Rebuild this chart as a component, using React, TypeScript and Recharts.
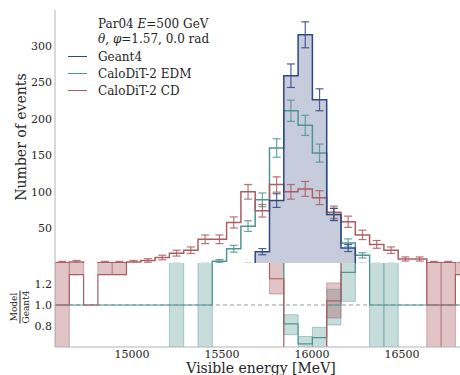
import React from 'react'
import {
  ComposedChart,
  Line,
  Area,
  Scatter,
  ErrorBar,
  XAxis,
  YAxis,
  ReferenceLine,
  ReferenceArea,
} from 'recharts'

// histogram binning in MeV
const BIN_START = 14572
const BIN_WIDTH = 79.44
const X_DOMAIN: [number, number] = [14572, 16933]
const X_TICKS = [15000, 15500, 16000, 16500]
const Y_TICKS = [50, 100, 150, 200, 250, 300]
const RATIO_DOMAIN: [number, number] = [0.6, 1.4]
const RATIO_TICKS = [0.8, 1.0, 1.2]

// event counts per bin
const GEANT4 = [0, 0, 0, 0, 0, 0, 0, 0, 0, 0, 0, 0, 0, 1, 18, 88, 259, 315, 226, 69, 23, 1, 0, 0, 0, 0, 0, 0, 0, 0]
const EDM = [0, 0, 0, 0, 0, 0, 0, 0, 1, 0, 1, 5, 22, 53, 89, 160, 211, 191, 153, 69, 30, 13, 1, 1, 0, 0, 0, 0, 0, 0]
const CD = [3, 4, 0, 3, 3, 4, 6, 10, 16, 20, 35, 35, 58, 100, 74, 110, 100, 104, 92, 72, 59, 41, 28, 20, 8, 8, 3, 3, 2, 2]

// model / Geant4 ratio per bin (values above 1.4 or below 0.6 fall outside the panel)
const CD_RATIO = [1.0, 1.29, 1.0, 1.29, 1.29, 9, 9, 9, 9, 9, 9, 9, 9, 9, 9, 1.25, 0.39, 0.33, 0.41, 1.04, 2.6, 9, 9, 9, 9, 9, 1.0, 1.0, 1.29, 1.29]
const EDM_RATIO = [1.0, 1.0, 1.0, 1.0, 1.0, 1.0, 1.0, 1.0, 1.0, 1.0, 1.0, 9, 9, 9, 9, 9, 0.82, 0.63, 0.69, 1.0, 1.31, 9, 1.0, 1.0, 1.0, 1.0, 1.0, 1.0, 1.0, 1.0]

// ratio uncertainty bands [low, high]
type Band = [number, number] | null
const CD_BAND: Band[] = [
  [0, 2], [1.29, 2], null, [1.29, 2], [1.29, 2], null, null, null, null, null,
  null, null, null, null, null, [1.105, 1.42], null, null, null, [0.876, 1.21],
  null, null, null, null, null, null, [0, 2], [0, 2], [1.29, 2], null,
]
const EDM_BAND: Band[] = [
  null, null, null, null, null, null, null, null, [0, 2], null,
  [0, 2], null, null, null, null, null, [0.717, 0.907], [0.55, 0.7], [0.58, 0.787], [0.81, 1.15],
  [1.035, 2], null, [0, 2], [0, 2], null, null, null, null, null, null,
]

const COLORS = {
  g4: '#2e4885',
  g4Fill: '#c6ccdb',
  edm: '#4f9592',
  cd: '#ad5c60',
}
const FONT = 'DejaVu Serif'
const TEXT = '#262626'
const SPINE = '#b3b3b3'

const NBINS = GEANT4.length
const edge = (k: number) => BIN_START + k * BIN_WIDTH

const stepData = Array.from({ length: NBINS + 1 }, (_, k) => {
  const i = Math.min(k, NBINS - 1)
  return {
    x: edge(k),
    g4: GEANT4[i],
    edm: EDM[i],
    cd: CD[i],
    rCd: CD_RATIO[i],
    rEdm: EDM_RATIO[i],
  }
})

// Poisson error bars at bin centres, only for filled bins
const errPoints = (vals: number[]) =>
  vals
    .map((v, k) => ({ x: edge(k) + BIN_WIDTH / 2, y: v, err: Math.sqrt(v) }))
    .filter((p) => p.y > 0)

const tickStyle = { fontFamily: FONT, fontSize: 11, fill: TEXT }
const noShape = () => <g />

function Legend() {
  const row = (cy: number, content: React.ReactNode, color?: string) => (
    <div
      style={{
        position: 'absolute',
        left: 68,
        top: cy,
        transform: 'translateY(-50%)',
        display: 'flex',
        alignItems: 'center',
        lineHeight: 1,
        whiteSpace: 'nowrap',
      }}
    >
      <span style={{ width: 19, height: 0, borderTop: color ? `1.6px solid ${color}` : 'none', marginRight: 11 }} />
      <span>{content}</span>
    </div>
  )
  return (
    <div style={{ position: 'absolute', left: 0, top: 0, fontFamily: FONT, fontSize: 12, color: TEXT }}>
      {row(24, <>Par04 <i>E</i>=500 GeV</>)}
      {row(38.5, <><i>θ</i>, <i>φ</i>=1.57, 0.0 rad</>)}
      {row(56.5, 'Geant4', COLORS.g4)}
      {row(73.5, 'CaloDiT-2 EDM', COLORS.edm)}
      {row(90.5, 'CaloDiT-2 CD', COLORS.cd)}
    </div>
  )
}

export default function App() {
  return (
    <div
      style={{
        position: 'absolute',
        left: 0,
        top: 0,
        width: 460,
        height: 375,
        overflow: 'hidden',
        background: '#fff',
        fontFamily: FONT,
      }}
    >
      {/* main panel: event counts */}
      <div style={{ position: 'absolute', left: 0, top: 0 }}>
        <ComposedChart width={480} height={263} data={stepData} margin={{ top: 10, right: 0, bottom: 0, left: 0 }}>
          <XAxis
            dataKey="x"
            type="number"
            domain={X_DOMAIN}
            allowDataOverflow
            tick={false}
            tickLine={false}
            height={0}
            axisLine={{ stroke: '#3d3d48', strokeWidth: 1.2 }}
          />
          <XAxis
            xAxisId="top"
            orientation="top"
            dataKey="x"
            type="number"
            domain={X_DOMAIN}
            allowDataOverflow
            tick={false}
            tickLine={false}
            height={0}
            axisLine={{ stroke: SPINE }}
          />
          <YAxis
            type="number"
            domain={[2.5, 349]}
            allowDataOverflow
            ticks={Y_TICKS}
            interval={0}
            width={55}
            tickSize={3}
            tickMargin={0}
            tickLine={false}
            axisLine={{ stroke: SPINE }}
            tick={tickStyle}
          />
          <Area
            type="stepAfter"
            dataKey="g4"
            stroke="none"
            fill={COLORS.g4Fill}
            fillOpacity={1}
            isAnimationActive={false}
          />
          <Line type="stepAfter" dataKey="edm" stroke={COLORS.edm} strokeWidth={1.5} dot={false} activeDot={false} isAnimationActive={false} />
          <Line type="stepAfter" dataKey="cd" stroke={COLORS.cd} strokeWidth={1.5} dot={false} activeDot={false} isAnimationActive={false} />
          <Line type="stepAfter" dataKey="g4" stroke={COLORS.g4} strokeWidth={1.5} dot={false} activeDot={false} isAnimationActive={false} />
          <Scatter data={errPoints(EDM)} dataKey="y" shape={noShape} isAnimationActive={false}>
            <ErrorBar dataKey="err" direction="y" width={4} strokeWidth={1.2} stroke="rgba(79,149,146,0.85)" />
          </Scatter>
          <Scatter data={errPoints(CD)} dataKey="y" shape={noShape} isAnimationActive={false}>
            <ErrorBar dataKey="err" direction="y" width={4} strokeWidth={1.2} stroke="rgba(173,92,96,0.85)" />
          </Scatter>
          <Scatter data={errPoints(GEANT4)} dataKey="y" shape={noShape} isAnimationActive={false}>
            <ErrorBar dataKey="err" direction="y" width={4} strokeWidth={1.2} stroke="rgba(46,72,133,0.85)" />
          </Scatter>
        </ComposedChart>
      </div>

      {/* ratio panel */}
      <div style={{ position: 'absolute', left: 0, top: 263 }}>
        <ComposedChart width={480} height={112} data={stepData} margin={{ top: 0, right: 0, bottom: 0, left: 0 }}>
          <XAxis
            dataKey="x"
            type="number"
            domain={X_DOMAIN}
            allowDataOverflow
            ticks={X_TICKS}
            interval={0}
            height={28}
            tickSize={3}
            tickMargin={0}
            tickLine={false}
            axisLine={{ stroke: SPINE }}
            tick={tickStyle}
          />
          <YAxis
            type="number"
            domain={RATIO_DOMAIN}
            allowDataOverflow
            ticks={RATIO_TICKS}
            interval={0}
            tickFormatter={(v: number) => v.toFixed(1)}
            width={55}
            tickSize={3}
            tickMargin={0}
            tickLine={false}
            axisLine={{ stroke: SPINE }}
            tick={tickStyle}
          />
          {EDM_BAND.map((b, k) =>
            b ? (
              <ReferenceArea
                key={'edm' + k}
                x1={edge(k)}
                x2={edge(k + 1)}
                y1={b[0]}
                y2={b[1]}
                ifOverflow="hidden"
                fill={COLORS.edm}
                fillOpacity={0.32}
                stroke="rgba(79,149,146,0.45)"
              />
            ) : null
          )}
          {CD_BAND.map((b, k) =>
            b ? (
              <ReferenceArea
                key={'cd' + k}
                x1={edge(k)}
                x2={edge(k + 1)}
                y1={b[0]}
                y2={b[1]}
                ifOverflow="hidden"
                fill={COLORS.cd}
                fillOpacity={0.36}
                stroke="rgba(173,92,96,0.45)"
              />
            ) : null
          )}
          <ReferenceLine y={1} stroke="#9a9a9a" strokeDasharray="4 3" />
          <Line type="stepAfter" dataKey="rEdm" stroke={COLORS.edm} strokeWidth={1.2} dot={false} activeDot={false} isAnimationActive={false} />
          <Line type="stepAfter" dataKey="rCd" stroke={COLORS.cd} strokeWidth={1.2} dot={false} activeDot={false} isAnimationActive={false} />
        </ComposedChart>
      </div>

      <Legend />

      {/* axis titles */}
      <div
        style={{
          position: 'absolute',
          left: 21,
          top: 137,
          transform: 'translate(-50%, -50%) rotate(-90deg)',
          fontSize: 14,
          color: TEXT,
          whiteSpace: 'nowrap',
          lineHeight: 1,
        }}
      >
        Number of events
      </div>
      <div
        style={{
          position: 'absolute',
          left: 20,
          top: 307,
          transform: 'translate(-50%, -50%) rotate(-90deg)',
          fontSize: 9,
          color: TEXT,
          display: 'flex',
          flexDirection: 'column',
          alignItems: 'center',
          lineHeight: 1,
        }}
      >
        <span>Model</span>
        <span style={{ borderTop: `0.8px solid ${TEXT}`, alignSelf: 'stretch', margin: '1px 0' }} />
        <span>Geant4</span>
      </div>
      <div
        style={{
          position: 'absolute',
          left: 261,
          top: 368,
          transform: 'translate(-50%, -50%)',
          fontSize: 14,
          color: TEXT,
          whiteSpace: 'nowrap',
          lineHeight: 1,
        }}
      >
        Visible energy [MeV]
      </div>
    </div>
  )
}
